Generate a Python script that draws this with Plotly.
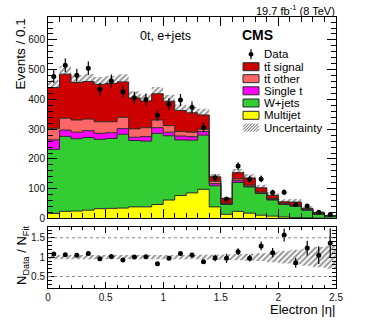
import plotly.graph_objects as go
import numpy as np

# bins of electron |eta|, width 0.1
bin_edges = np.round(np.arange(0, 2.51, 0.1), 2)
bin_centers = bin_edges[:-1] + 0.05

# fitted yields per process (events / 0.1)
multijet = [17, 24, 25, 28, 33, 34, 35, 39, 39, 47, 62, 77, 86, 98, 39, 14, 24, 18, 11, 8, 5, 3, 2, 1, 1]
wjets = [215, 252, 243, 244, 233, 235, 248, 223, 221, 239, 216, 187, 177, 182, 71, 33, 97, 88, 73, 54, 42, 38, 26, 13, 7]
single_t = [32, 21, 22, 23, 20, 19, 19, 11, 15, 19, 12, 13, 12, 12, 7, 2, 6, 2, 2, 2, 1, 1, 1, 1, 0.5]
tt_other = [39, 40, 41, 39, 39, 37, 38, 28, 30, 26, 22, 15, 15, 8, 8, 2, 6, 4, 3, 3, 2, 2, 1, 1, 0.5]
tt_signal = [137, 148, 126, 126, 126, 129, 119, 104, 90, 88, 82, 71, 65, 48, 15, 16, 21, 24, 14, 11, 6, 11, 4, 4, 0.5]

# observed events
data = [477, 515, 481, 505, 434, 462, 426, 406, 400, 347, 384, 398, 374, 306, 137, 65, 176, 132, 133, 87, 88, 47, 42, 21, 13]

# relative uncertainty of the fit
rel_unc = [0.055] * 13 + [0.06, 0.065, 0.07, 0.08, 0.09, 0.10, 0.13, 0.16, 0.19, 0.22, 0.26, 0.30]

processes = [
    ("Multijet", multijet, "#ffff00"),
    ("W+jets", wjets, "#33cc33"),
    ("Single t", single_t, "#ff00ff"),
    ("tt̄ other", tt_other, "#ff6666"),
    ("tt̄ signal", tt_signal, "#cc0000"),
]

data = np.array(data, dtype=float)
rel_unc = np.array(rel_unc)
data_err = np.sqrt(data)

fig = go.Figure()

# stacked histograms drawn as filled step lines
cum = np.zeros(len(bin_centers))
for i, (name, vals, color) in enumerate(processes):
    cum = cum + np.array(vals, dtype=float)
    fig.add_trace(go.Scatter(
        x=bin_edges, y=np.append(cum, cum[-1]), mode='lines', line_shape='hv',
        line=dict(color='#2a2a2a', width=1), fill='tozeroy' if i == 0 else 'tonexty',
        fillcolor=color, name=name, showlegend=False, hoverinfo='skip',
        xaxis='x', yaxis='y'))
total = cum

hatch = dict(shape='/', fgcolor='#2a2a2a', bgcolor='rgba(0,0,0,0)', size=4, solidity=0.5)

fig.add_trace(go.Bar(
    x=bin_centers, y=2 * total * rel_unc, base=total * (1 - rel_unc), width=0.1,
    marker=dict(color='rgba(0,0,0,0)', line_width=0, pattern=hatch),
    showlegend=False, hoverinfo='skip', xaxis='x', yaxis='y'))

fig.add_trace(go.Scatter(
    x=bin_centers, y=data, mode='markers',
    marker=dict(color='black', size=5),
    error_y=dict(type='data', array=data_err, width=0, thickness=1.2, color='black'),
    showlegend=False, xaxis='x', yaxis='y'))

# ratio panel
ratio = data / total
ratio_err = data_err / total

fig.add_trace(go.Bar(
    x=bin_centers, y=2 * rel_unc, base=1 - rel_unc, width=0.1,
    marker=dict(color='rgba(0,0,0,0)', line_width=0, pattern=hatch),
    showlegend=False, hoverinfo='skip', xaxis='x2', yaxis='y2'))

fig.add_trace(go.Scatter(
    x=bin_centers, y=ratio, mode='markers',
    marker=dict(color='black', size=5),
    error_y=dict(type='data', array=ratio_err, width=0, thickness=1.2, color='black'),
    showlegend=False, xaxis='x2', yaxis='y2'))

W, H = 374, 322
ML, MR, MT, MB = 48, 38, 17, 34


def px_x(px):
    return (px - ML) / (W - ML - MR)


def px_y(py):
    return (H - MB - py) / (H - MT - MB)


axis_style = dict(
    showline=True, linecolor='black', linewidth=1, mirror='ticks', ticks='inside',
    tickcolor='black', showgrid=False, zeroline=False,
    tickfont=dict(size=10, color='#111111'),
)

fig.update_layout(
    width=W, height=H, autosize=False,
    margin=dict(l=ML, r=MR, t=MT, b=MB),
    paper_bgcolor='white', plot_bgcolor='white',
    font=dict(family='Liberation Sans, Arial, sans-serif', color='black'),
    barmode='overlay', showlegend=False,
    xaxis=dict(domain=[0, 1], anchor='y', range=[0, 2.5], matches='x2', showticklabels=False,
               dtick=0.5, tick0=0, ticklen=9,
               minor=dict(ticks='inside', dtick=0.1, tick0=0, ticklen=5, tickcolor='black', showgrid=False),
               **axis_style),
    yaxis=dict(domain=[0.2565, 1], anchor='x', range=[0, 677], dtick=100, tick0=0, ticklen=9,
               showticklabels=True,
               minor=dict(ticks='inside', dtick=20, tick0=0, ticklen=5, tickcolor='black', showgrid=False),
               **axis_style),
    xaxis2=dict(domain=[0, 1], anchor='y2', range=[0, 2.5], dtick=0.5, tick0=0, ticklen=6,
                minor=dict(ticks='inside', dtick=0.1, tick0=0, ticklen=3, tickcolor='black', showgrid=False),
                **axis_style),
    yaxis2=dict(domain=[0, 0.226], anchor='x2', range=[0.205, 1.785], dtick=0.5, tick0=0, ticklen=7,
                minor=dict(ticks='inside', dtick=0.1, tick0=0, ticklen=4, tickcolor='black', showgrid=False),
                **axis_style),
)

shapes = []
for yv in [0.5, 1.5]:
    shapes.append(dict(type='line', xref='x2', yref='y2', x0=0, x1=2.5, y0=yv, y1=yv,
                       line=dict(color='#888888', width=1, dash='dot')))

annotations = [
    dict(text='19.7 fb<sup>-1</sup> (8 TeV)', x=px_x(337), y=px_y(9.5), xanchor='right', yanchor='middle',
         font=dict(size=11)),
    dict(text='<b>CMS</b>', x=px_x(240), y=px_y(35), xanchor='left', yanchor='middle', font=dict(size=14)),
    dict(text='0t, e+jets', x=px_x(138), y=px_y(36), xanchor='left', yanchor='middle', font=dict(size=12.5)),
    dict(text='Events / 0.1', x=px_x(20), y=1.0, xanchor='center', yanchor='top', textangle=-90,
         font=dict(size=13.5)),
    dict(text='N<sub>Data</sub> / N<sub>Fit</sub>', x=px_x(22), y=px_y(256), xanchor='center',
         yanchor='middle', textangle=-90, font=dict(size=13)),
    dict(text='Electron |η|', x=px_x(337), y=px_y(309), xanchor='right', yanchor='middle', font=dict(size=13)),
]

# legend drawn by hand (ROOT style, compact rows)
leg_names = ['Data', 'tt̄ signal', 'tt̄ other', 'Single t', 'W+jets', 'Multijet', 'Uncertainty']
leg_colors = {name: color for name, _, color in processes}
leg_rows = [54.3, 66.7, 78.7, 90.8, 103.0, 115.3, 127.7]
bx0, bx1 = 243, 259
for name, ry in zip(leg_names, leg_rows):
    annotations.append(dict(text=name, x=px_x(262), y=px_y(ry), xanchor='left', yanchor='middle',
                            font=dict(size=11.5)))
    if name == 'Data':
        shapes.append(dict(type='line', xref='paper', yref='paper', x0=px_x(251), x1=px_x(251),
                           y0=px_y(ry - 5), y1=px_y(ry + 5), line=dict(color='black', width=1.2)))
        shapes.append(dict(type='circle', xref='paper', yref='paper', x0=px_x(248.6), x1=px_x(253.4),
                           y0=px_y(ry - 2.4), y1=px_y(ry + 2.4), fillcolor='black', line_width=0))
    elif name == 'Uncertainty':
        top, bot = ry - 4, ry + 4
        for a in range(bx0 - 8, bx1, 3):
            t0 = max(0, bx0 - a)
            t1 = min(8, bx1 - a)
            if t1 <= t0:
                continue
            shapes.append(dict(type='line', xref='paper', yref='paper',
                               x0=px_x(a + t0), y0=px_y(bot - t0), x1=px_x(a + t1), y1=px_y(bot - t1),
                               line=dict(color='#555555', width=1)))
    else:
        shapes.append(dict(type='rect', xref='paper', yref='paper', x0=px_x(bx0), x1=px_x(bx1),
                           y0=px_y(ry + 4), y1=px_y(ry - 4), fillcolor=leg_colors[name],
                           line=dict(color='#2a2a2a', width=1)))

for a in annotations:
    a.update(xref='paper', yref='paper', showarrow=False)

fig.update_layout(shapes=shapes, annotations=annotations)

# drop the default 8px page margin so the figure fills the window exactly
fig.write_html("out.html", config={'displayModeBar': False},
               post_script="document.body.style.margin = '0';")
